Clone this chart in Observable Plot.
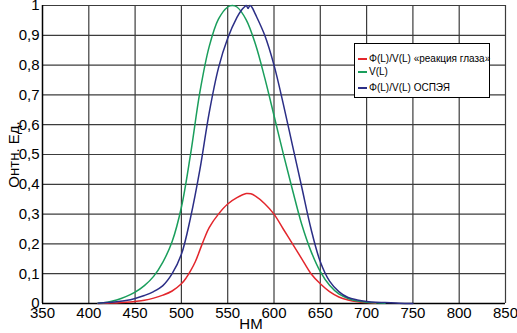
<!DOCTYPE html>
<html><head><meta charset="utf-8">
<script src="https://cdn.jsdelivr.net/npm/d3@7"></script>
<script src="https://cdn.jsdelivr.net/npm/@observablehq/plot@0.6"></script>
<style>
body{margin:0;background:#fff;font-family:"Liberation Sans",Arial,sans-serif}
#wrap{position:relative;width:517px;height:333px}
#legend{position:absolute;left:354px;top:43px;width:134px;height:53px;border:1px solid #000;background:#fff;font-size:10px;color:#000}
.it{position:absolute;left:3px;display:flex;align-items:center;white-space:nowrap}
.sw{display:inline-block;width:9px;height:2px;margin-right:2px}
</style></head><body>
<div id="wrap"><div id="legend"></div></div>
<script>
const seriesNames = ["Φ(L)/V(L) «реакция глаза»", "V(L)", "Φ(L)/V(L) ОСПЭЯ"];
const seriesColors = ["#e3262c", "#1a9e5c", "#2b2e86"];

const redNm = [410,420,430,440,450,460,470,480,490,500,505,510,515,520,525,530,540,550,560,570,575,580,590,600,610,620,630,640,650,660,670,680,690,700,710];
const redVal = [0,0.001,0.002,0.004,0.007,0.011,0.018,0.028,0.042,0.066,0.085,0.11,0.14,0.18,0.22,0.255,0.30,0.334,0.355,0.369,0.368,0.36,0.335,0.30,0.25,0.20,0.15,0.10,0.066,0.04,0.022,0.012,0.006,0.003,0.001];

const greenNm = [410,420,430,440,450,460,470,480,490,500,510,520,530,540,550,555,560,570,580,590,600,610,620,630,640,650,660,670,680,690,700,710,720];
const greenVal = [0.0012,0.004,0.0116,0.023,0.038,0.06,0.091,0.139,0.208,0.323,0.503,0.71,0.862,0.954,0.995,1.0,0.995,0.952,0.87,0.757,0.631,0.503,0.381,0.265,0.175,0.107,0.061,0.032,0.017,0.0082,0.0041,0.0021,0.001];

const blueNm = [410,420,430,440,450,460,470,480,490,500,510,520,530,540,550,560,565,568,570,572,574,576,580,590,600,610,620,630,640,650,660,670,680,690,700,710,720,735,750];
const blueVal = [0.001,0.003,0.006,0.01,0.017,0.027,0.04,0.06,0.1,0.165,0.29,0.45,0.64,0.79,0.89,0.96,0.985,0.995,1.0,0.99,1.0,0.995,0.97,0.9,0.8,0.67,0.53,0.39,0.25,0.14,0.075,0.04,0.02,0.012,0.007,0.004,0.003,0.001,0];

const xTicks = [350,400,450,500,550,600,650,700,750,800,850];
const yTicks = [0,0.1,0.2,0.3,0.4,0.5,0.6,0.7,0.8,0.9,1];
const yTickLabels = ["0","0,1","0,2","0,3","0,4","0,5","0,6","0,7","0,8","0,9","1"];
const xLabel = "НМ";
const yLabel = "Онтн. Ед.";

const rows = [];
[[redNm,redVal],[greenNm,greenVal],[blueNm,blueVal]].forEach(([n,v],i)=>{
  n.forEach((x,j)=>rows.push({nm:x,v:v[j],s:seriesNames[i]}));
});

const chart = Plot.plot({
  width: 517, height: 333,
  marginLeft: 42, marginRight: 12, marginTop: 5, marginBottom: 30,
  style: {fontFamily: '"Liberation Sans", Arial, sans-serif', fontSize: "15px", background: "#fff", color: "#000"},
  x: {domain: [350, 850]},
  y: {domain: [0, 1]},
  color: {domain: seriesNames, range: seriesColors},
  marks: [
    Plot.gridX(xTicks.slice(1), {stroke: "#3c3c3c", strokeOpacity: 1, strokeWidth: 1.2}),
    Plot.gridY(yTicks.slice(1), {stroke: "#3c3c3c", strokeOpacity: 1, strokeWidth: 1.2}),
    Plot.axisX(xTicks, {tickSize: 0, tickPadding: 4, label: null, fontSize: 15}),
    Plot.axisY(yTicks, {tickSize: 0, tickPadding: 3, tickFormat: (d,i)=>yTickLabels[i], label: yLabel, labelAnchor: "center", labelArrow: "none", labelOffset: 34, fontSize: 15}),
    Plot.ruleY([0], {stroke: "#000", strokeWidth: 1.5}),
    Plot.ruleX([350], {stroke: "#000", strokeWidth: 1.5}),
    Plot.line(rows, {x: "nm", y: "v", z: "s", stroke: "s", strokeWidth: 1.5, curve: "catmull-rom"}),
    Plot.text([xLabel], {frameAnchor: "bottom", dx: -23, dy: 25, fontSize: 15})
  ]
});
document.getElementById("wrap").prepend(chart);

const lg = document.getElementById("legend");
const tops = [9, 22, 38];
seriesNames.forEach((n,i)=>{
  const d = document.createElement("div");
  d.className = "it"; d.style.top = tops[i] + "px";
  d.innerHTML = `<span class="sw" style="background:${seriesColors[i]}"></span><span>${n}</span>`;
  lg.appendChild(d);
});
</script>
</body></html>
